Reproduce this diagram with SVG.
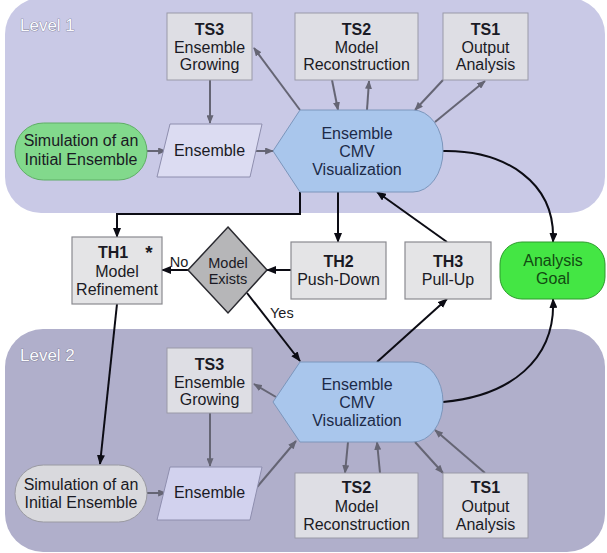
<svg xmlns="http://www.w3.org/2000/svg" width="607" height="553" viewBox="0 0 607 553">
<defs>
<marker id="ag" viewBox="0 0 10 8" refX="9" refY="4" markerWidth="9" markerHeight="7" orient="auto" markerUnits="userSpaceOnUse"><path d="M0,0 L10,4 L0,8 Z" fill="#656574"/></marker>
<marker id="ab" viewBox="0 0 10 8" refX="9" refY="4" markerWidth="10" markerHeight="8" orient="auto" markerUnits="userSpaceOnUse"><path d="M0,0 L10,4 L0,8 Z" fill="#0c0c14"/></marker>
</defs>
<style>
text{font-family:"Liberation Sans",Arial,sans-serif;font-size:16px;fill:#1a1a24;text-anchor:middle}
.b{font-weight:bold}
.lvl{font-size:17px;fill:#fafafd;text-anchor:start;stroke:#6e6e86;stroke-width:0.7;paint-order:stroke}
.box{fill:#dedee4;stroke:#9a9aa8;stroke-width:1}
.thbox{fill:#e4e4e6;stroke:#8a8a90;stroke-width:1.2}
.cmv{fill:#a9c6ec;stroke:#7c96bc;stroke-width:1}
.cmvt{fill:#1c2a48}
.ens{fill:#dcdcf2;stroke:#8e8eae;stroke-width:1}
.g{stroke:#656574;stroke-width:2;fill:none;marker-end:url(#ag)}
.k{stroke:#0c0c14;stroke-width:2;fill:none;marker-end:url(#ab)}
.kn{stroke:#0c0c14;stroke-width:2;fill:none}
.small{font-size:14.5px}
</style>
<rect x="0" y="0" width="607" height="553" fill="#ffffff"/>
<g id="level1">
<rect x="5" y="-2" width="600" height="215" rx="36" ry="36" fill="#c9c9e6"/>
<text class="lvl" x="20" y="31">Level 1</text>
</g>
<g id="level2">
<rect x="5" y="329" width="600" height="223" rx="38" ry="38" fill="#b0afcb"/>
<text class="lvl" x="20" y="361">Level 2</text>
</g>

<g id="connectors">
<line class="g" x1="147" y1="151" x2="166" y2="151"/>
<line class="g" x1="252" y1="151" x2="273" y2="151"/>
<line class="g" x1="210" y1="80" x2="210" y2="123"/>
<line class="g" x1="300" y1="110" x2="254" y2="48"/>
<line class="g" x1="332" y1="80" x2="338" y2="110"/>
<line class="g" x1="367" y1="110" x2="369" y2="81"/>
<line class="g" x1="443" y1="80" x2="415" y2="110"/>
<line class="g" x1="435" y1="122" x2="485" y2="81"/>
<polyline class="kn" points="300,192 300,214 117,214 117,230"/>
<line class="k" x1="117" y1="228" x2="117" y2="237"/>
<line class="k" x1="338" y1="192" x2="338" y2="242"/>
<line class="k" x1="447" y1="242" x2="377" y2="192"/>
<path class="k" d="M443,151 C505,150 556,182 553,242"/>
<line class="k" x1="188" y1="270" x2="162" y2="270"/>
<line class="k" x1="291" y1="270" x2="267" y2="270"/>
<line class="k" x1="247" y1="293" x2="300" y2="361"/>
<line class="k" x1="117" y1="304" x2="100" y2="464"/>
<line class="k" x1="377" y1="362" x2="447" y2="299"/>
<path class="k" d="M443,402 C510,396 556,360 553,299"/>
<line class="g" x1="147" y1="493" x2="166" y2="493"/>
<line class="g" x1="210" y1="413" x2="210" y2="466"/>
<line class="g" x1="252" y1="493" x2="296" y2="441"/>
<line class="g" x1="276" y1="397" x2="254" y2="384"/>
<line class="g" x1="348" y1="442" x2="345" y2="473"/>
<line class="g" x1="380" y1="473" x2="377" y2="442"/>
<line class="g" x1="415" y1="442" x2="443" y2="473"/>
<line class="g" x1="485" y1="473" x2="435" y2="430"/>
</g>

<g id="ts3-l1"><rect class="box" x="167" y="13" width="85" height="67"/><text class="b" x="209.5" y="35">TS3</text><text x="209.5" y="53">Ensemble</text><text x="209.5" y="70">Growing</text></g>
<g id="ts2-l1"><rect class="box" x="295" y="13" width="123" height="67"/><text class="b" x="356.5" y="35">TS2</text><text x="356.5" y="53">Model</text><text x="356.5" y="70">Reconstruction</text></g>
<g id="ts1-l1"><rect class="box" x="443" y="13" width="85" height="67"/><text class="b" x="485.5" y="35">TS1</text><text x="485.5" y="53">Output</text><text x="485.5" y="70">Analysis</text></g>
<g id="sim-l1"><rect x="15" y="123" width="132" height="57" rx="28.5" fill="#82d98c" stroke="#5fae66" stroke-width="1"/><text x="81" y="146">Simulation of an</text><text x="81" y="165">Initial Ensemble</text></g>
<g id="ens-l1"><polygon class="ens" points="170,124 262,124 250,177 157,177"/><text x="209.5" y="156">Ensemble</text></g>
<g id="cmv-l1"><path class="cmv" d="M273,151 L300,110 L413,110 A30,41 0 0 1 413,192 L300,192 Z"/><text class="cmvt" x="357" y="139">Ensemble</text><text class="cmvt" x="357" y="157">CMV</text><text class="cmvt" x="357" y="175">Visualization</text></g>

<g id="th1"><rect class="thbox" x="72" y="237" width="90" height="67"/><text class="b" x="113" y="258">TH1</text><text class="b" x="149" y="259" style="font-size:19px">*</text><text x="117" y="277">Model</text><text x="117" y="295">Refinement</text></g>
<g id="decision"><polygon points="228,227 267,270 228,313 188,270" fill="#b6b6b8" stroke="#2a2a30" stroke-width="1.5"/><text class="small" x="228" y="268">Model</text><text class="small" x="228" y="284">Exists</text></g>
<text class="small" x="179" y="267">No</text>
<text class="small" x="270" y="318" style="text-anchor:start">Yes</text>
<g id="th2"><rect class="thbox" x="291" y="242" width="95" height="57"/><text class="b" x="338.5" y="267">TH2</text><text x="338.5" y="285">Push-Down</text></g>
<g id="th3"><rect class="thbox" x="405" y="242" width="86" height="57"/><text class="b" x="448" y="267">TH3</text><text x="448" y="285">Pull-Up</text></g>
<g id="goal"><rect x="500" y="242" width="105" height="57" rx="22" fill="#44e644" stroke="#2c9a2c" stroke-width="1"/><text x="553" y="266" style="fill:#124a12">Analysis</text><text x="553" y="284" style="fill:#124a12">Goal</text></g>

<g id="ts3-l2"><rect class="box" x="167" y="348" width="85" height="65"/><text class="b" x="209.5" y="370">TS3</text><text x="209.5" y="388">Ensemble</text><text x="209.5" y="405">Growing</text></g>
<g id="sim-l2"><rect x="15" y="465" width="132" height="57" rx="28.5" fill="#d9d9dd" stroke="#9a9aa2" stroke-width="1"/><text x="81" y="490">Simulation of an</text><text x="81" y="508">Initial Ensemble</text></g>
<g id="ens-l2"><polygon class="ens" points="170,467 262,467 250,520 157,520" style="fill:#d2d2ee"/><text x="209.5" y="498">Ensemble</text></g>
<g id="cmv-l2"><path class="cmv" d="M273,402 L300,362 L413,362 A30,40 0 0 1 413,442 L300,442 Z"/><text class="cmvt" x="357" y="390">Ensemble</text><text class="cmvt" x="357" y="408">CMV</text><text class="cmvt" x="357" y="426">Visualization</text></g>
<g id="ts2-l2"><rect class="box" x="295" y="473" width="123" height="65"/><text class="b" x="356.5" y="493">TS2</text><text x="356.5" y="512">Model</text><text x="356.5" y="530">Reconstruction</text></g>
<g id="ts1-l2"><rect class="box" x="443" y="473" width="85" height="65"/><text class="b" x="485.5" y="493">TS1</text><text x="485.5" y="512">Output</text><text x="485.5" y="530">Analysis</text></g>
</svg>
